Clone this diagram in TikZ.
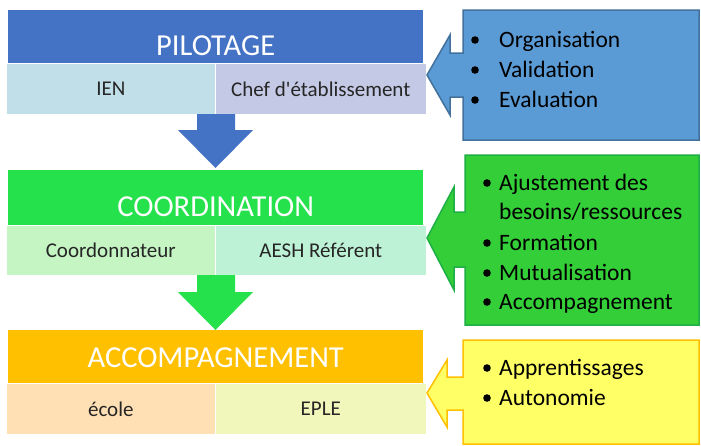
\documentclass[tikz,border=0pt]{standalone}
\usepackage{fontspec}
\setmainfont{Carlito}
\definecolor{pilot}{RGB}{68,114,196}
\definecolor{ien}{RGB}{192,223,232}
\definecolor{chef}{RGB}{196,202,230}
\definecolor{bluecall}{RGB}{91,155,213}
\definecolor{bluebord}{RGB}{65,113,156}
\definecolor{coord}{RGB}{36,225,76}
\definecolor{coordo}{RGB}{196,245,194}
\definecolor{aesh}{RGB}{190,242,214}
\definecolor{greencall}{RGB}{52,206,56}
\definecolor{greenbord}{RGB}{30,175,70}
\definecolor{accomp}{RGB}{255,192,0}
\definecolor{ecole}{RGB}{255,224,180}
\definecolor{eple}{RGB}{241,246,186}
\definecolor{yellcall}{RGB}{255,255,102}
\definecolor{yellbord}{RGB}{255,192,0}
\begin{document}
\begin{tikzpicture}[x=1pt,y=-1pt,
  hdr/.style={anchor=north west,inner sep=0pt,text=white,font=\fontsize{30.5}{36}\selectfont},
  sub/.style={anchor=north west,inner sep=0pt,minimum height=51pt,draw=white,line width=0.6pt,text=black!85,font=\fontsize{21}{25}\selectfont},
  item/.style={anchor=base west,inner sep=0pt,text=black,font=\fontsize{23.5}{28}\selectfont},
  callout/.style={line width=1.5pt,line join=miter}]
\useasboundingbox (0,0) rectangle (701,445);
\fill[white] (0,0) rectangle (701,445);

% ---- PILOTAGE
\node[hdr,fill=pilot,minimum width=415pt,text height=45pt,text depth=8pt] (pil) at (8,10) {PILOTAGE};
\node[sub,fill=ien,minimum width=209pt] (ien) at (6,63) {IEN};
\node[sub,fill=chef,minimum width=211pt] (chef) at (215,63) {Chef d\textquotesingle établissement};
\fill[pilot] (197,114) -- (235,114) -- (235,130) -- (253,130) -- (215.5,168) -- (178,130) -- (197,130) -- cycle;

% ---- COORDINATION
\node[hdr,fill=coord,minimum width=415pt,text height=46pt,text depth=9pt] (coo) at (8,170) {COORDINATION};
\node[sub,fill=coordo,minimum width=209pt,minimum height=50pt] (cdo) at (6,225) {Coordonnateur};
\node[sub,fill=aesh,minimum width=211pt,minimum height=50pt] (aesh) at (215,225) {AESH Référent};
\fill[coord] (197,275) -- (235,275) -- (235,292) -- (253,292) -- (215.5,330) -- (178,292) -- (197,292) -- cycle;

% ---- ACCOMPAGNEMENT
\node[hdr,fill=accomp,minimum width=415pt,text height=37pt,text depth=16pt] (acc) at (8,330) {ACCOMPAGNEMENT};
\node[sub,fill=ecole,minimum width=209pt] (eco) at (6,383) {école};
\node[sub,fill=eple,minimum width=211pt] (epl) at (215,383) {EPLE};

% ---- callouts
\draw[callout,fill=bluecall,draw=bluebord] (699,10) -- (463,10) -- (463,53) -- (450,53) -- (450,35) -- (427,75) -- (450,115) -- (450,97) -- (463,97) -- (463,140) -- (699,140) -- cycle;
\fill (475,40) circle (3.8);
\fill (475,70) circle (3.8);
\fill (475,100) circle (3.8);
\node[item] (b1) at (499,47) {Organisation};
\node[item] (b2) at (499,77) {Validation};
\node[item] (b3) at (499,107) {Evaluation};

\draw[callout,fill=greencall,draw=greenbord] (699,155) -- (465,155) -- (465,212) -- (454,212) -- (454,187) -- (427,238) -- (454,290) -- (454,267) -- (465,267) -- (465,325) -- (699,325) -- cycle;
\fill (487,183) circle (3.8);
\fill (487,243) circle (3.8);
\fill (487,273) circle (3.8);
\fill (487,302) circle (3.8);
\node[item] (g1) at (499,190) {Ajustement des};
\node[item] (g1b) at (499,219) {besoins/ressources};
\node[item] (g2) at (499,250) {Formation};
\node[item] (g3) at (499,280) {Mutualisation};
\node[item] (g4) at (499,309) {Accompagnement};

\draw[callout,fill=yellcall,draw=yellbord] (699,340) -- (463,340) -- (463,377) -- (447,377) -- (447,360) -- (427,393) -- (447,427) -- (447,410) -- (463,410) -- (463,444) -- (699,444) -- cycle;
\fill (487,368) circle (3.8);
\fill (487,398) circle (3.8);
\node[item] (y1) at (499,375) {Apprentissages};
\node[item] (y2) at (499,405) {Autonomie};
\end{tikzpicture}
\end{document}
